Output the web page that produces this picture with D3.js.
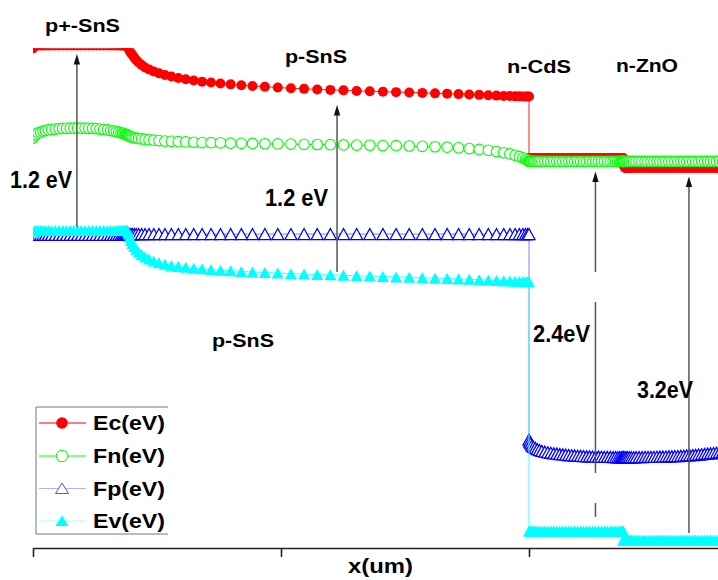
<!DOCTYPE html>
<html>
<head>
<meta charset="utf-8">
<script src="https://cdn.jsdelivr.net/npm/d3@7"></script>
<style>
  html, body { margin: 0; padding: 0; background: #fff; }
  svg { display: block; }
  text { font-family: "Liberation Sans", Arial, Helvetica, sans-serif; font-weight: bold; fill: #000; }
</style>
</head>
<body>
<svg id="chart" width="718" height="580"></svg>
<script>
// Simulation mesh: depth through the stack (um).
// p+-SnS 0-0.38, p-SnS 0.38-2.0, n-CdS 2.0-2.38, n-ZnO from 2.38
const depth = [
  // p+-SnS
  0, 0.006, 0.012, 0.02, 0.03, 0.04, 0.05, 0.062, 0.075, 0.09,
  0.105, 0.12, 0.135, 0.15, 0.165, 0.18, 0.195, 0.21, 0.225, 0.24,
  0.255, 0.27, 0.285, 0.3, 0.313, 0.325, 0.336, 0.346, 0.355, 0.362,
  0.368, 0.373, 0.377, 0.38,
  // p-SnS
  0.383, 0.386, 0.39, 0.395, 0.401, 0.408, 0.416, 0.426, 0.438, 0.452,
  0.468, 0.487, 0.508, 0.532, 0.558, 0.586, 0.616, 0.648, 0.682, 0.718,
  0.756, 0.797, 0.84, 0.885, 0.935, 0.987, 1.04, 1.093, 1.146, 1.199,
  1.252, 1.305, 1.358, 1.411, 1.464, 1.517, 1.57, 1.621, 1.67, 1.716,
  1.759, 1.799, 1.836, 1.869, 1.898, 1.923, 1.944, 1.961, 1.975, 1.986,
  1.994, 2.0,
  // n-CdS
  2.0, 2.003, 2.007, 2.012, 2.018, 2.025, 2.033, 2.042, 2.052, 2.064,
  2.076, 2.088, 2.1, 2.112, 2.124, 2.136, 2.148, 2.16, 2.172, 2.184,
  2.196, 2.208, 2.22, 2.232, 2.244, 2.256, 2.268, 2.28, 2.292, 2.304,
  2.316, 2.328, 2.339, 2.349, 2.358, 2.365, 2.371, 2.375, 2.378, 2.38,
  // n-ZnO
  2.38, 2.383, 2.387, 2.392, 2.398, 2.405, 2.413, 2.422, 2.432, 2.444,
  2.456, 2.468, 2.48, 2.492, 2.504, 2.516, 2.528, 2.54, 2.552, 2.564,
  2.576, 2.588, 2.6, 2.612, 2.624, 2.636, 2.648, 2.66, 2.672, 2.684,
  2.696, 2.708, 2.72, 2.732, 2.744, 2.756, 2.768, 2.78, 2.792
];

// Conduction band edge (eV)
const Ec = [
  1.23, 1.25, 1.25, 1.25, 1.25, 1.25, 1.25, 1.25, 1.25, 1.25,
  1.25, 1.25, 1.25, 1.25, 1.25, 1.25, 1.25, 1.25, 1.25, 1.25,
  1.25, 1.25, 1.25, 1.25, 1.25, 1.25, 1.25, 1.25, 1.25, 1.25,
  1.25, 1.25, 1.25, 1.25,
  1.24, 1.227, 1.213, 1.2, 1.187, 1.17, 1.153, 1.137, 1.12, 1.103,
  1.09, 1.077, 1.065, 1.053, 1.043, 1.033, 1.025, 1.017, 1.009, 1.003,
  0.997, 0.991, 0.985, 0.98, 0.975, 0.97, 0.965, 0.961, 0.957, 0.954,
  0.951, 0.947, 0.945, 0.942, 0.939, 0.937, 0.934, 0.931, 0.929, 0.926,
  0.923, 0.921, 0.918, 0.916, 0.914, 0.913, 0.911, 0.911, 0.91, 0.91,
  0.91, 0.91,
  0.5, 0.5, 0.5, 0.5, 0.5, 0.5, 0.5, 0.5, 0.5, 0.5,
  0.5, 0.5, 0.5, 0.5, 0.5, 0.5, 0.5, 0.5, 0.5, 0.5,
  0.5, 0.5, 0.5, 0.5, 0.5, 0.5, 0.5, 0.5, 0.5, 0.5,
  0.5, 0.5, 0.5, 0.5, 0.5, 0.5, 0.5, 0.5, 0.5, 0.5,
  0.467, 0.447, 0.433, 0.433, 0.433, 0.433, 0.433, 0.433, 0.433, 0.433,
  0.433, 0.433, 0.433, 0.433, 0.433, 0.433, 0.433, 0.433, 0.433, 0.433,
  0.433, 0.433, 0.433, 0.433, 0.433, 0.433, 0.433, 0.433, 0.433, 0.433,
  0.433, 0.433, 0.433, 0.433, 0.433, 0.433, 0.433, 0.433, 0.433
];

// Electron quasi-Fermi level (eV)
const Fn = [
  0.633, 0.647, 0.657, 0.667, 0.673, 0.679, 0.683, 0.687, 0.691, 0.693,
  0.695, 0.697, 0.698, 0.699, 0.699, 0.699, 0.699, 0.699, 0.698, 0.697,
  0.695, 0.693, 0.69, 0.687, 0.683, 0.68, 0.676, 0.672, 0.668, 0.665,
  0.661, 0.658, 0.655, 0.653,
  0.651, 0.648, 0.645, 0.641, 0.638, 0.635, 0.632, 0.629, 0.627, 0.624,
  0.621, 0.619, 0.616, 0.613, 0.611, 0.609, 0.607, 0.605, 0.603, 0.602,
  0.601, 0.599, 0.598, 0.597, 0.595, 0.594, 0.593, 0.591, 0.59, 0.589,
  0.587, 0.586, 0.585, 0.583, 0.582, 0.58, 0.578, 0.575, 0.572, 0.568,
  0.563, 0.557, 0.551, 0.543, 0.535, 0.527, 0.518, 0.509, 0.501, 0.493,
  0.487, 0.48,
  0.477, 0.477, 0.477, 0.477, 0.477, 0.477, 0.477, 0.477, 0.477, 0.477,
  0.477, 0.477, 0.477, 0.477, 0.477, 0.477, 0.477, 0.477, 0.477, 0.477,
  0.477, 0.477, 0.477, 0.477, 0.477, 0.477, 0.477, 0.477, 0.477, 0.477,
  0.477, 0.477, 0.477, 0.477, 0.477, 0.477, 0.477, 0.477, 0.477, 0.477,
  0.477, 0.477, 0.477, 0.477, 0.477, 0.477, 0.477, 0.477, 0.477, 0.477,
  0.477, 0.477, 0.477, 0.477, 0.477, 0.477, 0.477, 0.477, 0.477, 0.477,
  0.477, 0.477, 0.477, 0.477, 0.477, 0.477, 0.477, 0.477, 0.477, 0.477,
  0.477, 0.477, 0.477, 0.477, 0.477, 0.477, 0.477, 0.477, 0.477
];

// Hole quasi-Fermi level (eV)
const Fp = [
  -0.013, -0.013, -0.013, -0.013, -0.013, -0.013, -0.013, -0.013, -0.013, -0.013,
  -0.013, -0.013, -0.013, -0.013, -0.013, -0.013, -0.013, -0.013, -0.013, -0.013,
  -0.013, -0.013, -0.013, -0.013, -0.013, -0.013, -0.013, -0.013, -0.013, -0.013,
  -0.013, -0.013, -0.013, -0.013,
  -0.007, -0.007, -0.007, -0.007, -0.007, -0.007, -0.007, -0.007, -0.007, -0.007,
  -0.007, -0.007, -0.007, -0.007, -0.007, -0.007, -0.007, -0.007, -0.007, -0.007,
  -0.007, -0.007, -0.007, -0.007, -0.007, -0.007, -0.007, -0.007, -0.007, -0.007,
  -0.007, -0.007, -0.007, -0.007, -0.007, -0.007, -0.007, -0.007, -0.007, -0.007,
  -0.007, -0.007, -0.007, -0.007, -0.007, -0.007, -0.007, -0.007, -0.007, -0.007,
  -0.007, -0.007,
  -1.377, -1.39, -1.403, -1.415, -1.425, -1.433, -1.441, -1.447, -1.453, -1.458,
  -1.462, -1.465, -1.469, -1.471, -1.474, -1.476, -1.478, -1.48, -1.482, -1.483,
  -1.485, -1.486, -1.487, -1.489, -1.489, -1.49, -1.491, -1.491, -1.492, -1.493,
  -1.493, -1.493, -1.494, -1.494, -1.495, -1.495, -1.495, -1.495, -1.495, -1.495,
  -1.495, -1.495, -1.495, -1.495, -1.495, -1.495, -1.495, -1.495, -1.494, -1.494,
  -1.494, -1.493, -1.493, -1.493, -1.493, -1.492, -1.491, -1.491, -1.49, -1.489,
  -1.489, -1.488, -1.487, -1.486, -1.485, -1.483, -1.482, -1.481, -1.479, -1.477,
  -1.475, -1.473, -1.471, -1.469, -1.467, -1.465, -1.463, -1.46, -1.457
];

// Valence band edge (eV)
const Ev = [
  0.003, 0.012, 0.017, 0.017, 0.017, 0.017, 0.017, 0.017, 0.017, 0.017,
  0.017, 0.017, 0.017, 0.017, 0.017, 0.017, 0.017, 0.017, 0.017, 0.017,
  0.017, 0.017, 0.017, 0.017, 0.017, 0.017, 0.017, 0.017, 0.017, 0.017,
  0.017, 0.017, 0.017, 0.017,
  0.007, -0.007, -0.027, -0.05, -0.07, -0.09, -0.109, -0.127, -0.143, -0.16,
  -0.173, -0.187, -0.198, -0.208, -0.216, -0.223, -0.229, -0.235, -0.239, -0.244,
  -0.248, -0.252, -0.256, -0.26, -0.264, -0.267, -0.271, -0.274, -0.277, -0.279,
  -0.282, -0.285, -0.287, -0.29, -0.293, -0.295, -0.298, -0.301, -0.303, -0.306,
  -0.309, -0.311, -0.314, -0.316, -0.318, -0.32, -0.321, -0.323, -0.324, -0.325,
  -0.325, -0.325,
  -1.987, -1.987, -1.987, -1.987, -1.987, -1.987, -1.987, -1.987, -1.987, -1.987,
  -1.987, -1.987, -1.987, -1.987, -1.987, -1.987, -1.987, -1.987, -1.987, -1.987,
  -1.987, -1.987, -1.987, -1.987, -1.987, -1.987, -1.987, -1.987, -1.987, -1.987,
  -1.987, -1.987, -1.987, -1.987, -1.987, -1.987, -1.987, -1.987, -1.987, -1.987,
  -2.047, -2.047, -2.047, -2.047, -2.047, -2.047, -2.047, -2.047, -2.047, -2.047,
  -2.047, -2.047, -2.047, -2.047, -2.047, -2.047, -2.047, -2.047, -2.047, -2.047,
  -2.047, -2.047, -2.047, -2.047, -2.047, -2.047, -2.047, -2.047, -2.047, -2.047,
  -2.047, -2.047, -2.047, -2.047, -2.047, -2.047, -2.047, -2.047, -2.047
];

const seriesNames = ["Ec(eV)", "Fn(eV)", "Fp(eV)", "Ev(eV)"];
const layerNames = ["p+-SnS", "p-SnS", "n-CdS", "n-ZnO", "p-SnS"];

// Band-gap arrows: depth (um), start and tip energies (eV), label
const gapArrowX = [0.177, 1.226, 2.268, 2.645];
const gapArrowFrom = [0.04, -0.26, -1.947, -2.0];
const gapArrowTo = [1.193, 0.853, 0.41, 0.377];
const gapLabels = ["1.2 eV", "1.2 eV", "2.4eV", "3.2eV"];

const xTicks = [0, 1, 2];
const xTitle = "x(um)";

// ---------------------------------------------------------------
const W = 718, H = 580;
const svg = d3.select("#chart");

const x = d3.scaleLinear().domain([0, 3]).range([33, 777]);
const y = d3.scaleLinear().domain([-2.1, 1.56]).range([548, -1]);

svg.append("defs").append("clipPath").attr("id", "plotClip")
  .append("rect").attr("x", 33).attr("y", 48.5).attr("width", W).attr("height", 548 - 48.5);

const plot = svg.append("g").attr("clip-path", "url(#plotClip)");

const triPath = "M0,-5.5L6,5.5L-6,5.5Z";
const seriesStyle = [
  { values: Ec, line: "#ff2020", shape: "circle", r: 5,   fill: "#ff0000", stroke: "none",    sw: 1 },
  { values: Fn, line: "#00ff00", shape: "circle", r: 5.3, fill: "#ffffff", stroke: "#00ff00", sw: 1.1 },
  { values: Fp, line: "#8080ff", shape: "tri",    fill: "#ffffff", stroke: "#0000ff", sw: 1.3 },
  { values: Ev, line: "#40ffff", shape: "tri",    fill: "#00ffff", stroke: "none",    sw: 1 }
];

const lineGen = d3.line().x(p => x(p[0])).y(p => y(p[1]));

seriesStyle.forEach(s => {
  const pts = depth.map((d, i) => [d, s.values[i]]);
  plot.append("path").datum(pts)
    .attr("d", lineGen)
    .attr("fill", "none")
    .attr("stroke", s.line)
    .attr("stroke-width", 1);
  const g = plot.append("g");
  if (s.shape === "circle") {
    g.selectAll("circle").data(pts).join("circle")
      .attr("cx", p => x(p[0])).attr("cy", p => y(p[1]))
      .attr("r", s.r)
      .attr("fill", s.fill)
      .attr("stroke", s.stroke)
      .attr("stroke-width", s.sw);
  } else {
    g.selectAll("path").data(pts).join("path")
      .attr("d", triPath)
      .attr("transform", p => `translate(${x(p[0])},${y(p[1])})`)
      .attr("fill", s.fill)
      .attr("stroke", s.stroke)
      .attr("stroke-width", s.sw);
  }
});

// x axis
const axis = d3.axisBottom(x).tickValues(xTicks).tickFormat("").tickSize(9).tickSizeOuter(0);
const ax = svg.append("g").attr("transform", "translate(0,548)").call(axis);
ax.select(".domain").attr("stroke", "#222").attr("stroke-width", 1.6);
ax.selectAll(".tick line").attr("stroke", "#222").attr("stroke-width", 1.6);

svg.append("text").attr("x", 348).attr("y", 573)
  .attr("font-size", 21).attr("textLength", 65).attr("lengthAdjust", "spacingAndGlyphs")
  .text(xTitle);

// band-gap arrows
const arrowDash = [null, null, "90.5 30 171 30 14 40", null];
gapArrowX.forEach((gx, i) => {
  const px = x(gx), yTail = y(gapArrowFrom[i]), yTip = y(gapArrowTo[i]);
  svg.append("line")
    .attr("x1", px).attr("x2", px)
    .attr("y1", yTip + 10).attr("y2", yTail)
    .attr("stroke", "#555").attr("stroke-width", 1.5)
    .attr("stroke-dasharray", arrowDash[i]);
  svg.append("path")
    .attr("d", `M${px},${yTip}L${px + 3.2},${yTip + 10.5}L${px - 3.2},${yTip + 10.5}Z`)
    .attr("fill", "#111");
});

// gap labels
const gapPos = [[10, 188], [265, 205.5], [533, 341.5], [637, 398]];
const gapWidth = [62, 63, 57, 56];
gapLabels.forEach((t, i) => {
  svg.append("text").attr("x", gapPos[i][0]).attr("y", gapPos[i][1])
    .attr("font-size", 23).attr("textLength", gapWidth[i]).attr("lengthAdjust", "spacingAndGlyphs")
    .text(t);
});

// layer labels
const layerPos = [[45, 32], [285, 63], [507, 73], [616, 72], [212, 347]];
const layerWidth = [75, 62, 64, 62, 62];
layerNames.forEach((t, i) => {
  svg.append("text").attr("x", layerPos[i][0]).attr("y", layerPos[i][1])
    .attr("font-size", 19).attr("textLength", layerWidth[i]).attr("lengthAdjust", "spacingAndGlyphs")
    .text(t);
});

// legend
const leg = svg.append("g");
leg.append("path")
  .attr("d", "M168,407H36V534H168")
  .attr("fill", "none").attr("stroke", "#777").attr("stroke-width", 1);
const legRows = [423, 456, 488.5, 521];
const legLine = ["#ff0000", "#00ff00", "#b0b0ff", "#a0ffff"];
const legTri = "M0,-5.5L6.5,5L-6.5,5Z";
seriesNames.forEach((name, i) => {
  const ry = legRows[i];
  const s = seriesStyle[i];
  leg.append("line").attr("x1", 39).attr("x2", 86).attr("y1", ry).attr("y2", ry)
    .attr("stroke", legLine[i]).attr("stroke-width", 1);
  if (s.shape === "circle") {
    leg.append("circle").attr("cx", 62).attr("cy", ry).attr("r", 5.8)
      .attr("fill", s.fill).attr("stroke", s.stroke).attr("stroke-width", 1);
  } else {
    leg.append("path").attr("d", legTri).attr("transform", `translate(62,${ry})`)
      .attr("fill", s.fill).attr("stroke", i === 2 ? "#5050ff" : "none").attr("stroke-width", 1);
  }
  leg.append("text").attr("x", 93).attr("y", ry + 7)
    .attr("font-size", 20).attr("textLength", 72).attr("lengthAdjust", "spacingAndGlyphs")
    .text(name);
});
</script>
</body>
</html>
